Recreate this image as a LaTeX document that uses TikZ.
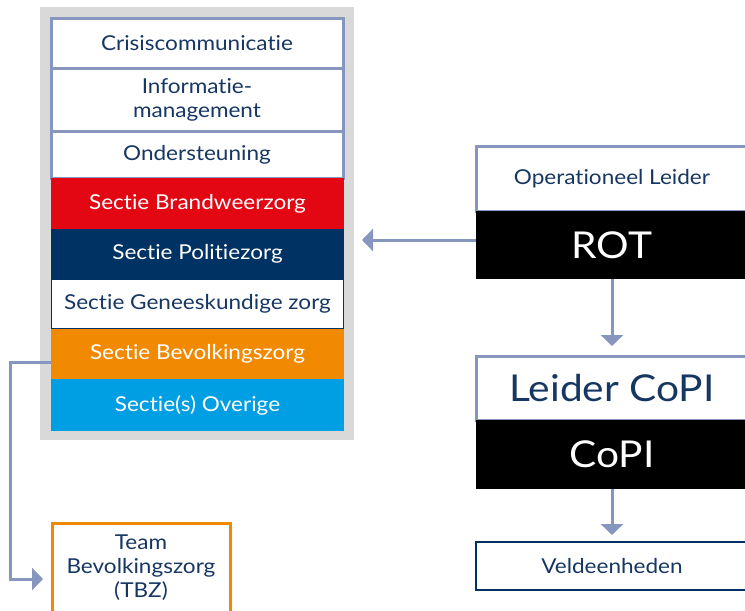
\documentclass[tikz,border=0pt]{standalone}
\usepackage{fontspec}
\setmainfont{Lato}[FakeStretch=1.1, Ligatures=NoCommon]
\usetikzlibrary{arrows.meta}
\definecolor{txtnavy}{RGB}{23,55,99}
\definecolor{sectred}{RGB}{227,6,19}
\definecolor{sectnavy}{RGB}{0,50,100}
\definecolor{sectorange}{RGB}{241,138,0}
\definecolor{sectcyan}{RGB}{0,159,227}
\definecolor{bggray}{RGB}{217,217,217}
\definecolor{steel}{RGB}{135,150,190}
\begin{document}
\begin{tikzpicture}[x=1pt,y=-1pt,
  box/.style={inner sep=0pt, outer sep=0pt, align=center, font=\fontsize{20.5}{24}\selectfont},
  wbox/.style={box, draw=steel, line width=3pt, fill=white, text=txtnavy},
  sbox/.style={box, text=white, minimum width=293pt},
  big/.style={font=\fontsize{37}{42}\selectfont},
  arr/.style={draw=steel, line width=3pt, -{Triangle[length=11pt,width=22pt]}},
]
\useasboundingbox (0,0) rectangle (745,611);
% left stack
\node[fill=bggray, minimum width=314pt, minimum height=433pt, inner sep=0pt, outer sep=0pt] (bg) at (197,223.5) {};
\node[wbox, minimum width=292pt, minimum height=50pt] (crisis) at (197,43) {Crisiscommunicatie};
\node[wbox, minimum width=292pt, minimum height=63pt] (info) at (197,99.5) {Informatie-\\management};
\node[wbox, minimum width=292pt, minimum height=47pt] (onder) at (197,154.5) {Ondersteuning};
\node[sbox, fill=sectred, minimum height=51pt] (brand) at (197.5,203.5) {Sectie Brandweerzorg};
\node[sbox, fill=sectnavy, minimum height=50pt] (politie) at (197.5,254) {Sectie Politiezorg};
\node[sbox, fill=white, draw=sectnavy, line width=1.5pt, text=txtnavy, minimum width=292pt, minimum height=50pt] (genees) at (197.5,304) {Sectie Geneeskundige zorg};
\node[sbox, fill=sectorange, minimum height=50pt] (bevolking) at (197.5,354) {Sectie Bevolkingszorg};
\node[sbox, fill=sectcyan, minimum height=52pt] (overige) at (197.5,405) {Sectie(s) Overige};
% TBZ
\node[box, draw=sectorange, line width=3pt, fill=white, text=txtnavy, minimum width=178pt, minimum height=90pt] (tbz) at (141,568) {Team\\Bevolkingszorg\\(TBZ)};
% right column
\node[wbox, minimum width=272pt, minimum height=65pt] (opl) at (612,178.5) {Operationeel Leider};
\node[box, big, fill=black, text=white, minimum width=272pt, minimum height=68pt] (rot) at (612,245) {ROT};
\node[wbox, big, minimum width=272pt, minimum height=64pt] (leider) at (612,388) {Leider CoPI};
\node[box, big, fill=black, text=white, minimum width=272pt, minimum height=69pt] (copi) at (612,454.5) {CoPI};
\node[box, draw=sectnavy, line width=2pt, fill=white, text=txtnavy, minimum width=272pt, minimum height=48pt] (veld) at (612,566) {Veldeenheden};
% connectors
\coordinate (r1) at (476,240);
\draw[arr, shorten >=8pt] (r1) -- (bg.east |- r1);
\draw[arr, shorten >=10pt] (rot.south) -- (leider.north);
\draw[arr, shorten >=7pt] (copi.south) -- (veld.north);
\coordinate (c1) at (10,362);
\coordinate (c2) at (10,579);
\draw[arr, shorten >=9pt] (bevolking.west |- c1) -- (c1) -- (c2) -- (tbz.west |- c2);
\end{tikzpicture}
\end{document}
